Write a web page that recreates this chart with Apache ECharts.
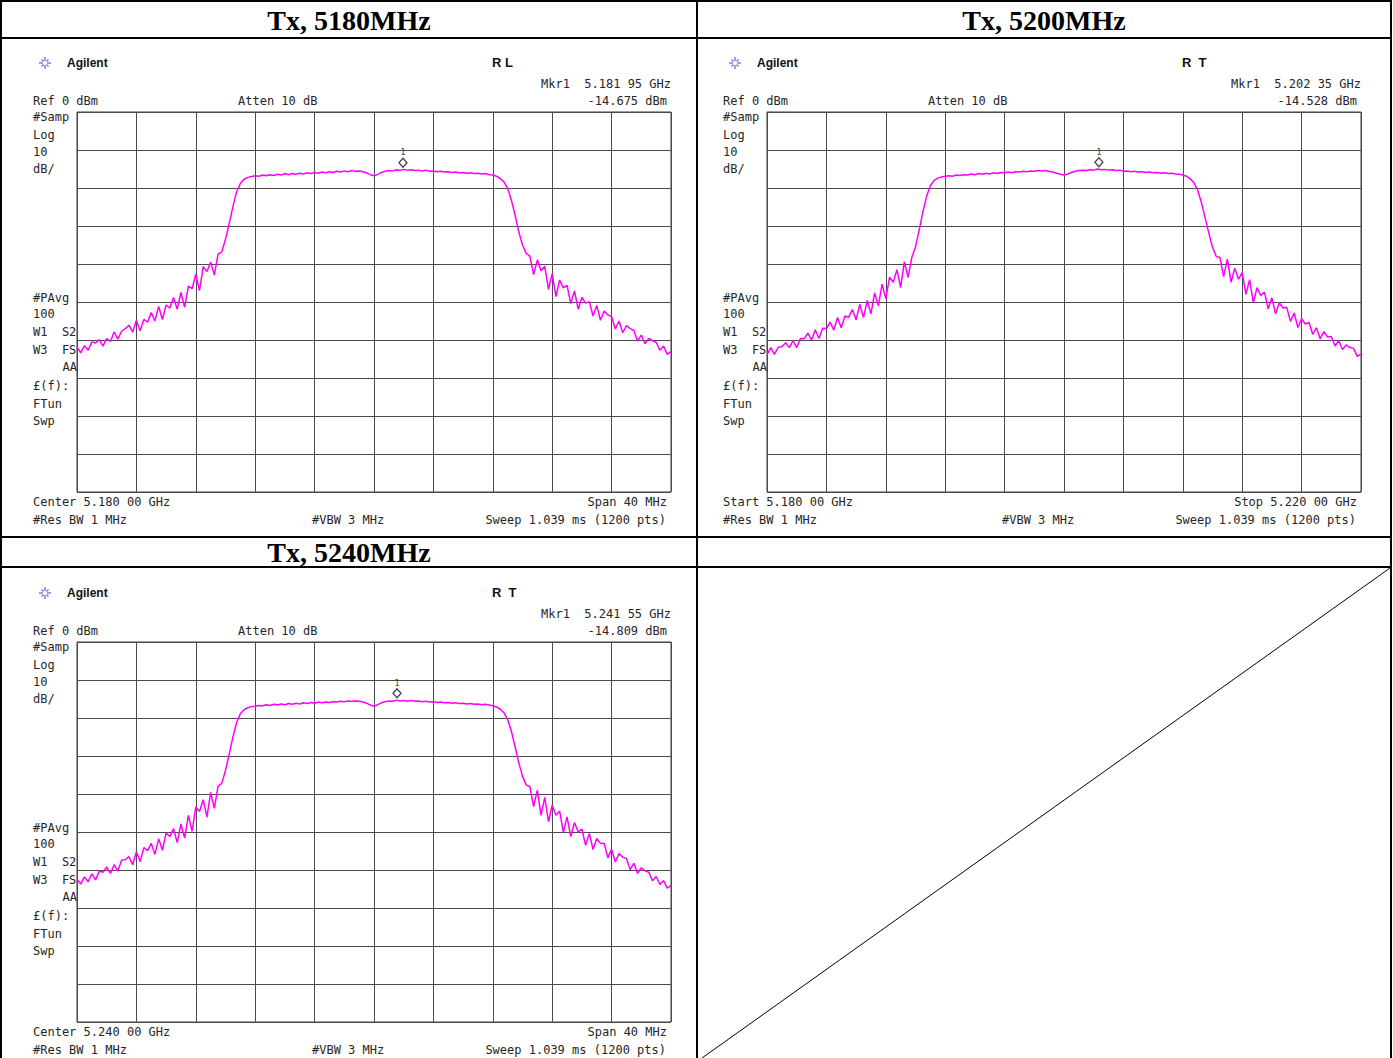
<!DOCTYPE html>
<html>
<head>
<meta charset="utf-8">
<script src="https://cdn.jsdelivr.net/npm/echarts@6/dist/echarts.min.js"></script>
<style>
html,body{margin:0;padding:0;background:#fff;}
#chart{width:1393px;height:1058px;}
</style>
</head>
<body>
<div id="chart"></div>
<script>
// ---------------- DATA ----------------
const panelTitles = ['Tx, 5180MHz', 'Tx, 5200MHz', 'Tx, 5240MHz'];
const sweepStartMHz = [5160, 5180, 5220];
const sweepStepMHz = 0.25;
const spanMHz = 40;
const refLevel = 0;
const bottomLevel = -100;
const markerFreq = [5181.95, 5202.35, 5241.55];
const markerLevel = [-14.675, -14.528, -14.809];
const markerText = ['Mkr1  5.181 95 GHz', 'Mkr1  5.202 35 GHz', 'Mkr1  5.241 55 GHz'];
const markerLevelText = ['-14.675 dBm', '-14.528 dBm', '-14.809 dBm'];
const statusText = ['R L', 'R  T', 'R  T'];
const freqLeftText = ['Center 5.180 00 GHz', 'Start 5.180 00 GHz', 'Center 5.240 00 GHz'];
const freqRightText = ['Span 40 MHz', 'Stop 5.220 00 GHz', 'Span 40 MHz'];

const trace5180 = [
-61.8,-63.4,-61.5,-62.7,-60.5,-60.8,-59.9,-61.6,-59.6,-60.4,
-57.9,-59.8,-57.7,-57.0,-56.1,-57.9,-54.8,-57.6,-54.6,-55.3,
-52.8,-55.0,-51.2,-54.6,-50.8,-51.6,-48.8,-51.9,-47.5,-51.4,
-45.8,-46.5,-42.7,-47.0,-40.7,-42.0,-39.5,-42.9,-37.4,-36.8,
-33.5,-29.3,-24.9,-21.0,-18.8,-17.7,-17.2,-17.0,-16.8,-16.9,
-16.6,-16.8,-16.5,-16.7,-16.4,-16.6,-16.2,-16.5,-16.2,-16.4,
-16.1,-16.3,-16.0,-16.2,-15.9,-16.1,-15.8,-16.0,-15.7,-15.9,
-15.6,-15.8,-15.5,-15.7,-15.4,-15.6,-15.5,-15.7,-16.0,-16.5,
-16.8,-16.4,-15.9,-15.6,-15.4,-15.5,-15.2,-15.4,-15.1,-15.3,
-15.2,-15.4,-15.3,-15.5,-15.3,-15.6,-15.5,-15.7,-15.6,-15.8,
-15.7,-15.9,-15.8,-16.0,-15.9,-16.1,-16.0,-16.2,-16.1,-16.3,
-16.2,-16.5,-16.6,-16.9,-17.5,-18.4,-20.1,-23.2,-27.1,-31.5,
-35.0,-37.2,-38.0,-42.8,-38.9,-41.8,-40.6,-46.7,-42.5,-48.6,
-44.2,-46.3,-45.6,-50.4,-47.1,-51.9,-48.8,-50.3,-49.9,-53.7,
-50.9,-54.8,-52.4,-53.4,-53.9,-57.1,-55.0,-58.1,-56.2,-57.0,
-57.5,-60.3,-58.7,-61.0,-59.6,-60.2,-60.6,-62.7,-61.6,-63.8,
-63.0
];
const trace5200 = [
-63.9,-62.0,-63.8,-61.9,-61.8,-60.7,-62.0,-60.2,-62.0,-59.6,
-59.7,-58.2,-60.0,-57.3,-59.6,-56.9,-57.0,-55.3,-57.4,-54.1,
-56.8,-53.7,-54.0,-52.0,-54.7,-50.6,-54.1,-49.6,-53.1,-47.6,
-51.0,-45.3,-49.1,-43.5,-44.8,-41.5,-46.2,-39.4,-43.5,-38.3,
-35.5,-31.0,-26.2,-22.2,-19.4,-18.0,-17.4,-17.1,-16.9,-16.8,
-16.9,-16.6,-16.7,-16.5,-16.6,-16.3,-16.5,-16.2,-16.4,-16.1,
-16.3,-16.0,-16.2,-15.9,-16.0,-15.8,-16.0,-15.7,-15.8,-15.6,
-15.7,-15.5,-15.6,-15.4,-15.5,-15.4,-15.6,-15.8,-16.1,-16.4,
-16.6,-16.3,-15.9,-15.6,-15.4,-15.3,-15.4,-15.2,-15.3,-15.0,
-15.2,-15.1,-15.3,-15.2,-15.4,-15.3,-15.6,-15.5,-15.7,-15.6,
-15.8,-15.7,-15.9,-15.8,-16.0,-15.9,-16.1,-16.0,-16.2,-16.1,
-16.3,-16.4,-16.6,-16.9,-17.6,-18.6,-20.6,-23.8,-27.8,-31.8,
-35.6,-38.0,-38.3,-43.3,-38.7,-44.8,-41.1,-44.0,-42.3,-48.0,
-44.1,-50.2,-46.2,-48.3,-47.4,-51.8,-48.9,-53.1,-50.2,-51.6,
-51.4,-55.1,-52.9,-56.7,-54.4,-55.8,-55.4,-58.5,-56.8,-59.7,
-57.8,-59.2,-59.1,-61.6,-60.2,-62.5,-61.3,-62.0,-62.2,-64.3,
-63.7
];
const trace5240 = [
-62.4,-63.7,-61.8,-63.1,-61.0,-62.6,-60.3,-60.6,-59.2,-60.9,
-58.6,-60.3,-57.4,-57.3,-56.5,-58.6,-55.2,-57.8,-54.1,-54.9,
-53.0,-55.9,-51.8,-54.8,-50.3,-51.2,-49.1,-52.8,-47.9,-51.6,
-45.6,-49.8,-43.4,-44.6,-41.5,-46.1,-39.6,-43.8,-37.9,-37.2,
-33.8,-29.5,-25.0,-21.2,-18.9,-17.8,-17.3,-17.0,-16.9,-16.7,
-16.8,-16.5,-16.7,-16.4,-16.6,-16.3,-16.5,-16.2,-16.4,-16.1,
-16.3,-16.0,-16.2,-15.9,-16.1,-15.8,-16.0,-15.8,-15.9,-15.7,
-15.8,-15.6,-15.7,-15.5,-15.6,-15.5,-15.6,-15.8,-16.1,-16.6,
-16.9,-16.5,-16.0,-15.7,-15.5,-15.6,-15.3,-15.5,-15.4,-15.6,
-15.4,-15.6,-15.5,-15.7,-15.6,-15.8,-15.7,-15.9,-15.8,-16.0,
-15.9,-16.1,-16.0,-16.2,-16.1,-16.3,-16.2,-16.4,-16.3,-16.5,
-16.4,-16.6,-16.8,-17.1,-17.7,-18.6,-20.4,-23.5,-27.5,-31.8,
-35.3,-37.6,-38.1,-43.3,-39.0,-45.6,-40.9,-47.3,-42.9,-45.6,
-44.5,-50.1,-46.0,-51.2,-47.5,-50.0,-49.2,-53.5,-50.4,-54.6,
-51.7,-53.0,-53.0,-56.8,-54.5,-57.9,-55.7,-56.6,-57.0,-59.9,
-58.2,-60.9,-59.4,-60.2,-60.6,-62.8,-61.7,-63.8,-62.8,-64.8,
-64.1
];
const traces = [trace5180, trace5200, trace5240];

// ---------------- LAYOUT ----------------
const panelOffsets = [[0, 0], [690, 0], [0, 530]];
const gridBox = { left: 77, top: 112, width: 594, height: 380 };
const monoFont = '12px "DejaVu Sans Mono", "Liberation Mono", monospace';
const textColor = '#262626';

const chart = echarts.init(document.getElementById('chart'), null, { renderer: 'svg' });

const grids = [], xAxes = [], yAxes = [], series = [], graphics = [];

function txt(x, y, s, opts) {
  opts = opts || {};
  const align = opts.align || 'left';
  graphics.push({
    type: 'text', z: 100, silent: true,
    style: {
      text: s, x: x, y: y,
      font: opts.font || monoFont,
      fill: opts.fill || textColor,
      align: align, textAlign: align,
      verticalAlign: 'middle', textVerticalAlign: 'middle'
    }
  });
}
function line(x1, y1, x2, y2, w, c) {
  graphics.push({
    type: 'line', z: 90, silent: true,
    shape: { x1: x1, y1: y1, x2: x2, y2: y2 },
    style: { stroke: c || '#000', lineWidth: w || 2 }
  });
}

// table frame
line(1, 1, 1391, 1, 2);
line(1, 0, 1, 1058, 2);
line(1391, 0, 1391, 1058, 2);
line(697, 0, 697, 1058, 2);
line(1, 38, 1391, 38, 2);
line(1, 537, 1391, 537, 2);
line(1, 567, 1391, 567, 2);
line(702, 1058, 1390, 568, 1);

const titleFont = 'bold 28px "Liberation Serif", "Times New Roman", serif';
txt(349, 20, panelTitles[0], { font: titleFont, align: 'center', fill: '#000' });
txt(1044, 20, panelTitles[1], { font: titleFont, align: 'center', fill: '#000' });
txt(349, 552, panelTitles[2], { font: titleFont, align: 'center', fill: '#000' });

panelOffsets.forEach(function (off, p) {
  const dx = off[0], dy = off[1];
  grids.push({
    left: gridBox.left + dx, top: gridBox.top + dy,
    width: gridBox.width, height: gridBox.height,
    show: true, borderColor: '#3c3c3c', borderWidth: 1,
    backgroundColor: 'transparent', containLabel: false
  });
  xAxes.push({
    gridIndex: p, type: 'value',
    min: sweepStartMHz[p], max: sweepStartMHz[p] + spanMHz, interval: 4,
    axisLine: { show: false }, axisTick: { show: false }, axisLabel: { show: false },
    splitLine: { show: true, lineStyle: { color: '#4a4a4a', width: 1 } }
  });
  yAxes.push({
    gridIndex: p, type: 'value',
    min: bottomLevel, max: refLevel, interval: 10,
    axisLine: { show: false }, axisTick: { show: false }, axisLabel: { show: false },
    splitLine: { show: true, lineStyle: { color: '#4a4a4a', width: 1 } }
  });
  const data = traces[p].map(function (v, i) {
    return [sweepStartMHz[p] + i * sweepStepMHz, v];
  });
  series.push({
    type: 'line', xAxisIndex: p, yAxisIndex: p, data: data,
    showSymbol: false, symbol: 'none', animation: false, z: 5,
    lineStyle: { color: '#ff00ff', width: 1.5 }
  });
  series.push({
    type: 'scatter', xAxisIndex: p, yAxisIndex: p,
    data: [[markerFreq[p], markerLevel[p]]],
    symbol: 'diamond', symbolSize: [8, 9], symbolOffset: [0, -5],
    animation: false, z: 6,
    itemStyle: { color: '#ffffff', borderColor: '#111', borderWidth: 1.3 },
    label: { show: true, position: 'top', distance: 1, formatter: '1',
      fontSize: 9, color: '#111', fontFamily: 'DejaVu Sans Mono' }
  });

  // Agilent logo (spark)
  const cx = 45 + dx, cy = 63 + dy;
  for (let k = 0; k < 8; k++) {
    const a = k * Math.PI / 4;
    const r1 = 2, r2 = (k % 2 === 0) ? 6 : 5;
    line(cx + r1 * Math.cos(a), cy + r1 * Math.sin(a),
         cx + r2 * Math.cos(a), cy + r2 * Math.sin(a), 1.5, '#7f7fe0');
  }
  txt(67 + dx, 63 + dy, 'Agilent', { font: 'bold 12px "Liberation Sans", Arial, sans-serif', fill: '#111' });
  txt(492 + dx, 62 + dy, statusText[p], { font: 'bold 13px "Liberation Sans", Arial, sans-serif', fill: '#111' });
  txt(671 + dx, 84 + dy, markerText[p], { align: 'right' });
  txt(33 + dx, 101 + dy, 'Ref 0 dBm');
  txt(238 + dx, 101 + dy, 'Atten 10 dB');
  txt(667 + dx, 101 + dy, markerLevelText[p], { align: 'right' });
  const leftLabels = [['#Samp', 117], ['Log', 135], ['10', 152], ['dB/', 169],
    ['#PAvg', 298], ['100', 314], ['W1  S2', 332], ['W3  FS', 350],
    ['£(f):', 386], ['FTun', 404], ['Swp', 421]];
  leftLabels.forEach(function (l) { txt(33 + dx, l[1] + dy, l[0]); });
  txt(77 + dx, 367 + dy, 'AA', { align: 'right' });
  txt(33 + dx, 502 + dy, freqLeftText[p]);
  txt(667 + dx, 502 + dy, freqRightText[p], { align: 'right' });
  txt(33 + dx, 520 + dy, '#Res BW 1 MHz');
  txt(312 + dx, 520 + dy, '#VBW 3 MHz');
  txt(666 + dx, 520 + dy, 'Sweep 1.039 ms (1200 pts)', { align: 'right' });
});

chart.setOption({
  animation: false,
  backgroundColor: '#ffffff',
  grid: grids, xAxis: xAxes, yAxis: yAxes, series: series,
  graphic: { elements: graphics }
});
</script>
</body>
</html>
